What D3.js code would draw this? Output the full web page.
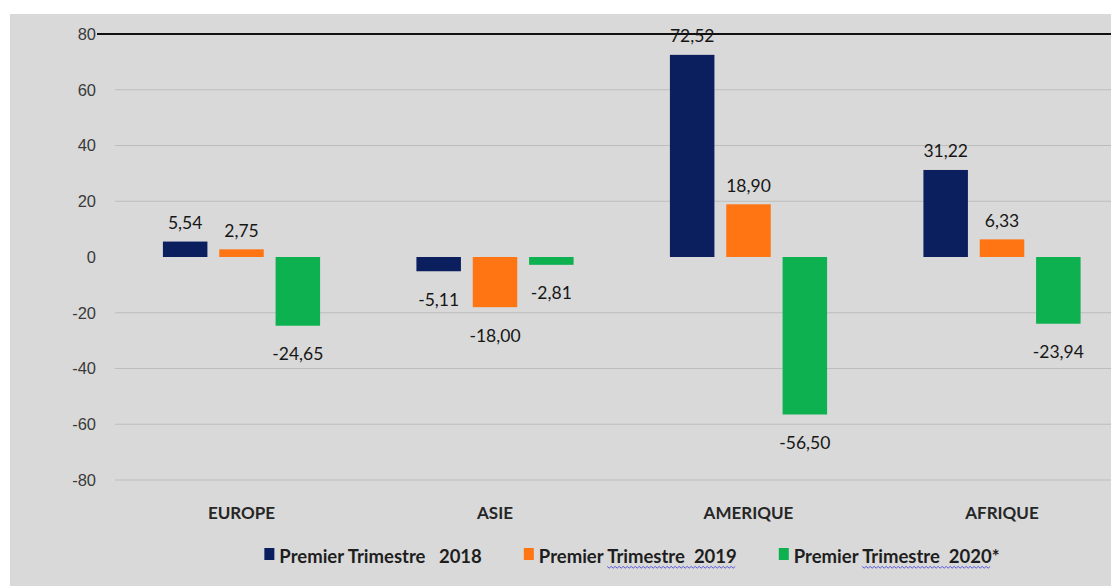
<!DOCTYPE html>
<html>
<head>
<meta charset="utf-8">
<script src="https://cdn.jsdelivr.net/npm/d3@7"></script>
<style>
  html, body { margin: 0; padding: 0; background: #ffffff; }
  svg { display: block; }
  text { font-family: Lato, "Open Sans", sans-serif; }
</style>
</head>
<body>
<svg id="chart" width="1111" height="586"></svg>
<script>
// Regions and first-quarter variations (%)
const regions = ["EUROPE", "ASIE", "AMERIQUE", "AFRIQUE"];
const seriesNames = ["Premier Trimestre   2018", "Premier Trimestre  2019", "Premier Trimestre  2020*"];
const q1_2018 = [5.54, -5.11, 72.52, 31.22];
const q1_2019 = [2.75, -18.00, 18.90, 6.33];
const q1_2020 = [-24.65, -2.81, -56.50, -23.94];
const yTicks = [-80, -60, -40, -20, 0, 20, 40, 60, 80];
const seriesColors = ["#0b1f5f", "#ff7413", "#0db14f"];

const seriesValues = [q1_2018, q1_2019, q1_2020];

const W = 1111, H = 586;
const svg = d3.select("#chart");

// French number formatting: comma decimal, plain hyphen minus
const fr = d3.formatLocale({ decimal: ",", thousands: " ", grouping: [3], currency: ["", " €"], minus: "-" });
const fmtValue = fr.format(".2f");
const fmtTick = fr.format("d");

// Chart area background
svg.append("rect")
  .attr("x", 10).attr("y", 14)
  .attr("width", W - 10).attr("height", H - 14)
  .attr("fill", "#d9d9d9");

// Scales
const y = d3.scaleLinear().domain([-80, 80]).range([480, 34]);
const x0 = d3.scaleBand().domain(regions).range([114.75, 1128.75]).padding(0);
const x1 = d3.scaleBand().domain(d3.range(seriesNames.length))
  .range([x0.bandwidth() * 0.19, x0.bandwidth() * 0.81])
  .paddingInner(0.21).paddingOuter(0);

const root = svg.append("g");
root.append("clipPath").attr("id", "plotClip")
  .append("rect").attr("x", 10).attr("y", 14).attr("width", W - 10).attr("height", H - 14);

// Horizontal gridlines (the zero line is not drawn)
root.append("g").selectAll("line")
  .data(yTicks.filter(t => t !== 0 && t !== 80))
  .join("line")
  .attr("x1", 115).attr("x2", W)
  .attr("y1", d => y(d)).attr("y2", d => y(d))
  .attr("stroke", "#bdbdbd").attr("stroke-width", 1);

// Heavy top rule at the axis maximum
root.append("line")
  .attr("x1", 97).attr("x2", W)
  .attr("y1", y(80)).attr("y2", y(80))
  .attr("stroke", "#111111").attr("stroke-width", 2);

// Y tick labels
root.append("g").selectAll("text")
  .data(yTicks)
  .join("text")
  .attr("x", 96).attr("y", d => y(d))
  .attr("dy", "0.36em")
  .attr("text-anchor", "end")
  .style("font-family", "'Liberation Sans', Arial, sans-serif")
  .style("font-size", "16.5px")
  .attr("fill", "#3a3a3a")
  .text(d => fmtTick(d));

// Bars
const groups = root.append("g").attr("clip-path", "url(#plotClip)")
  .selectAll("g.region")
  .data(regions)
  .join("g")
  .attr("class", "region")
  .attr("transform", d => `translate(${x0(d)},0)`);

const cells = groups.selectAll("g.cell")
  .data((r, i) => seriesValues.map((vals, s) => ({ s, v: vals[i] })))
  .join("g").attr("class", "cell");

cells.append("rect")
  .attr("x", d => x1(d.s))
  .attr("width", x1.bandwidth())
  .attr("y", d => Math.min(y(d.v), y(0)))
  .attr("height", d => Math.abs(y(d.v) - y(0)))
  .attr("fill", d => seriesColors[d.s]);

// Value labels: above positive bars, below negative bars
cells.append("text")
  .attr("x", d => x1(d.s) + x1.bandwidth() / 2)
  .attr("y", d => d.v >= 0 ? y(d.v) - 12.5 : y(d.v) + 34.5)
  .attr("text-anchor", "middle")
  .style("font-size", "17.5px")
  .attr("fill", "#161616")
  .text(d => fmtValue(d.v));

// Category labels
root.append("g").selectAll("text")
  .data(regions)
  .join("text")
  .attr("x", d => x0(d) + x0.bandwidth() / 2)
  .attr("y", 519)
  .attr("text-anchor", "middle")
  .style("font-size", "17px")
  .style("font-weight", "700")
  .attr("fill", "#262626")
  .text(d => d);

// Legend
const legend = root.append("g");
const markerW = 10, markerH = 12, markerGap = 5, itemGap = 42;
const items = legend.selectAll("g.item")
  .data(seriesNames.map((name, i) => ({ name, i })))
  .join("g").attr("class", "item");

items.append("rect")
  .attr("width", markerW).attr("height", markerH)
  .attr("y", 548)
  .attr("fill", d => seriesColors[d.i]);

items.append("text")
  .attr("y", 563)
  .attr("x", markerW + markerGap)
  .style("font-size", "18.5px")
  .style("font-weight", "700")
  .style("white-space", "pre")
  .attr("xml:space", "preserve")
  .attr("fill", "#1e1e1e")
  .text(d => d.name);

// Lay legend items out left to right, centred on the legend block
const widths = [];
items.each(function () {
  widths.push(markerW + markerGap + d3.select(this).select("text").node().getComputedTextLength());
});
const total = d3.sum(widths) + itemGap * (widths.length - 1);
let cursor = 632 - total / 2;
items.attr("transform", (d, i) => {
  const t = `translate(${cursor},0)`;
  cursor += widths[i] + itemGap;
  return t;
});

// Spell-check style wavy underline beneath "Trimestre ... year" on the later entries
items.filter(d => d.i > 0).each(function () {
  const t = d3.select(this).select("text");
  const node = t.node();
  const name = node.textContent;
  const start = name.indexOf("Trimestre");
  const endIdx = name.search(/\d{4}/) + 4;
  const xs = markerW + markerGap + node.getSubStringLength(0, start);
  const xe = markerW + markerGap + node.getSubStringLength(0, endIdx);
  const pts = [];
  let k = 0;
  for (let px = xs; px <= xe; px += 2, k++) pts.push([px, 567 + (k % 2 ? 1.2 : -0.6)]);
  d3.select(this).append("path")
    .attr("d", d3.line()(pts))
    .attr("fill", "none")
    .attr("stroke", "#4a4ad6")
    .attr("stroke-width", 0.9);
});
</script>
</body>
</html>
